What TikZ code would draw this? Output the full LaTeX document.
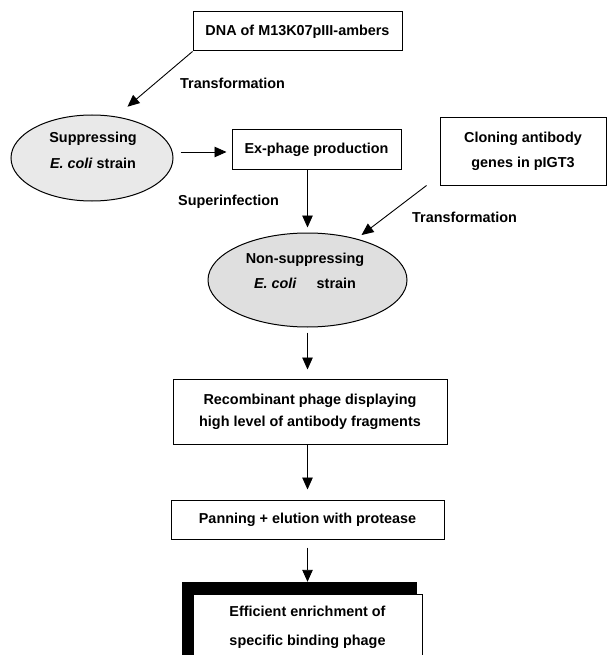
\documentclass[tikz,border=0pt]{standalone}
\usepackage{fontspec}
\setmainfont{Liberation Sans}
\usetikzlibrary{arrows.meta,shapes.geometric}
\begin{document}
\begin{tikzpicture}[x=1pt,y=-1pt,
  lsk/.style={font=\bfseries\fontsize{14.4}{#1}\selectfont},
  txt/.style={lsk=22, inner sep=0pt, align=center},
  boxnode/.style={draw=black, line width=1pt, fill=white, inner sep=0pt, txt},
  strain/.style={ellipse, draw=black, line width=1pt, inner sep=0pt},
  arr/.style={line width=0.9pt, -{Triangle[length=12pt,width=10.5pt]}}]
\useasboundingbox (0,0) rectangle (608,655);
\clip (0,0) rectangle (608,655);

% boxes
\node[boxnode, minimum width=209pt, minimum height=39pt] (dna) at (297.5,31.5) {DNA of M13K07pIII-ambers};
\node[boxnode, minimum width=169pt, minimum height=40pt] (exp) at (316.5,150) {Ex-phage production};
\node[boxnode, lsk=25, minimum width=166pt, minimum height=67pt] (clon) at (523,151.5) {Cloning antibody\\genes in pIGT3};
\node[boxnode, minimum width=274pt, minimum height=65pt] (rec) at (310,411.5) {Recombinant phage displaying\\high level of antibody fragments};
\node[boxnode, minimum width=273pt, minimum height=39pt] (pan) at (307.5,519.5) {Panning + elution with protease};
\node[fill=black, inner sep=0pt, minimum width=235pt, minimum height=78pt] (stackback) at (299.5,621) {};
\node[boxnode, lsk=29, minimum width=229pt, minimum height=66pt] (eff) at (307.5,627) {Efficient enrichment of\\specific binding phage};

% ellipses
\node[strain, fill=gray!17, minimum width=162pt, minimum height=86pt] (sup) at (92,158) {};
\node[txt, lsk=26] (suptxt) at (93,150) {Suppressing\\\textit{E. coli} strain};
\node[strain, fill=gray!25, minimum width=199pt, minimum height=94pt] (nons) at (307.5,280) {};
\node[txt, lsk=25] (nontxt) at (305,270.5) {Non-suppressing\\\textit{E. coli}\hspace{16pt} strain};

% labels
\node[txt, anchor=west] (tr1) at (180,83) {Transformation};
\node[txt, anchor=west] (supinf) at (178,202) {Superinfection};
\node[txt, anchor=west] (tr2) at (412,217) {Transformation};

% connectors
\coordinate (clonstart) at ([xshift=-13pt]clon.south west);
\draw[arr, shorten >=15pt] (dna.south west) -- (sup.60);
\draw[arr, shorten <=7pt, shorten >=5pt] ([yshift=-2pt]sup.east |- exp.west) -- ([yshift=-2pt]exp.west);
\draw[arr, shorten >=5pt] (nons.north |- exp.south) -- (nons.north);
\draw[arr, shorten >=6pt] (clonstart) -- (nons.40);
\draw[arr, shorten <=5pt, shorten >=9pt] (nons.south) -- (nons.south |- rec.north);
\draw[arr, shorten >=10pt] (pan.north |- rec.south) -- (pan.north);
\draw[arr, shorten <=8pt] (pan.south) -- (pan.south |- stackback.north);
\end{tikzpicture}
\end{document}
